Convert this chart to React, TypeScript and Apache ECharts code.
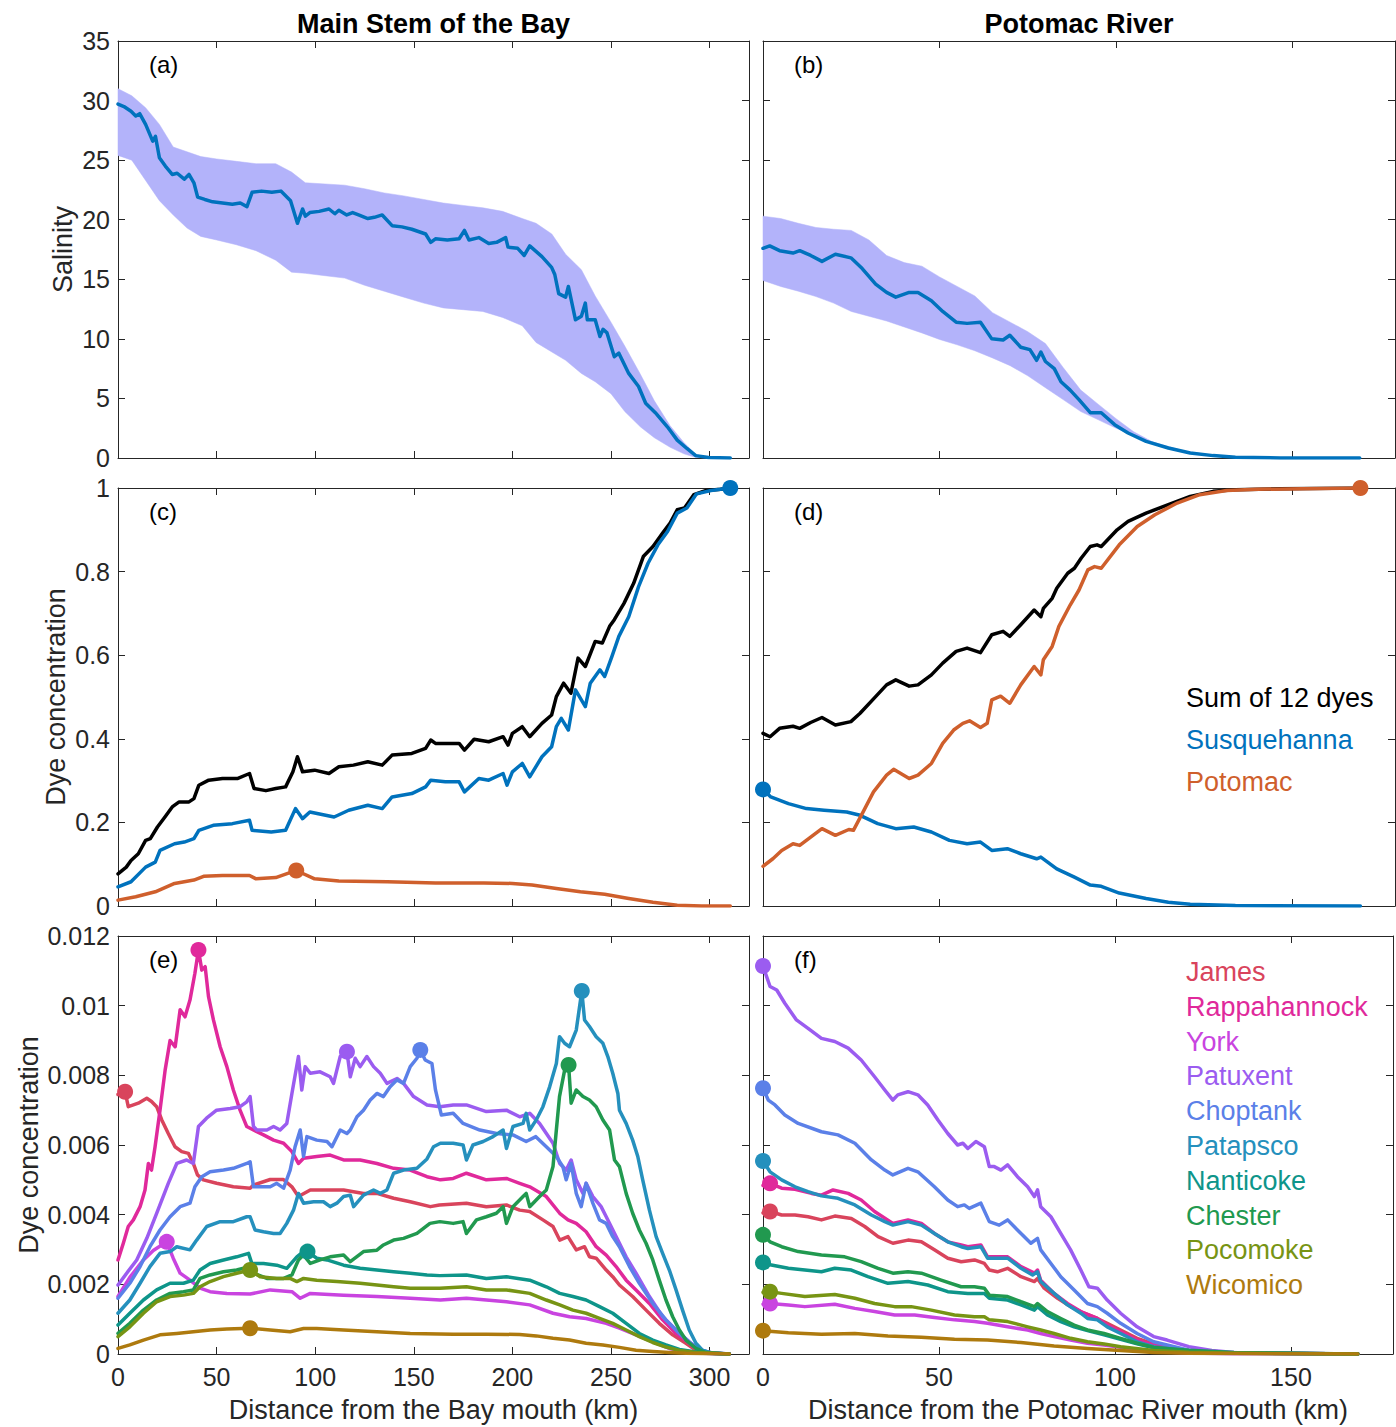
import React, { useEffect, useRef } from 'react';
import * as echarts from 'echarts';

type P = [number, number];

const FONT = '"Liberation Sans", Arial, Helvetica, sans-serif';
const AXIS = '#262626';
const BAND = '#b3b3fa';
const BLUE = '#0072BD';
const ORANGE = '#cf5f2c';
const BLACK = '#000000';

// ---------- Panel (a): salinity, main stem ----------
const bandMainX = [0, 7, 14, 21, 28, 35, 42, 50, 60, 70, 80, 88, 95, 105, 115, 125, 135, 145, 155, 165, 175, 185, 195, 205, 212, 220, 227, 235, 242, 250, 257, 265, 272, 280, 287, 293, 300];
const bandMainUpper = [31.0, 30.4, 29.4, 28.0, 26.1, 25.7, 25.3, 25.1, 24.9, 24.7, 24.7, 24.0, 23.1, 23.0, 22.9, 22.6, 22.25, 22.0, 21.7, 21.4, 21.2, 21.0, 20.7, 20.1, 19.7, 18.8, 17.1, 15.8, 13.6, 11.4, 9.4, 7.0, 4.8, 2.7, 1.3, 0.3, 0];
const bandMainLower = [25.4, 25.0, 23.3, 21.6, 20.4, 19.3, 18.6, 18.3, 17.9, 17.4, 16.6, 15.6, 15.5, 15.3, 15.1, 14.5, 14.0, 13.5, 13.0, 12.6, 12.45, 12.3, 11.8, 11.1, 9.7, 8.9, 8.2, 7.1, 6.4, 5.4, 3.9, 2.6, 1.7, 0.9, 0.35, 0.05, 0];
const salMainMean: P[] = [[0, 29.7], [3, 29.5], [6.6, 29.1], [9, 28.7], [11, 28.9], [14, 28], [17.6, 26.6], [19, 27.0], [21, 25.2], [24, 24.5], [27.5, 23.8], [30, 23.9], [33.6, 23.4], [36, 23.8], [38.5, 23.1], [40.4, 21.9], [44, 21.7], [48, 21.5], [53, 21.4], [58, 21.3], [62, 21.4], [65.4, 21.1], [68, 22.3], [72.8, 22.4], [78, 22.3], [82.6, 22.4], [87.5, 21.6], [91, 19.7], [93.6, 20.9], [95, 20.3], [97.3, 20.6], [102, 20.7], [107, 20.9], [110, 20.5], [112, 20.8], [116, 20.4], [119, 20.6], [122, 20.4], [126.7, 20.1], [130, 20.2], [134, 20.4], [139, 19.5], [144, 19.4], [149, 19.2], [156, 18.8], [158.6, 18.1], [161, 18.4], [167, 18.3], [173, 18.4], [175.7, 19.1], [178, 18.3], [183, 18.5], [188, 18.0], [192, 18.1], [196.6, 18.5], [197.8, 17.7], [202.7, 17.6], [206, 17.0], [208.8, 17.8], [215, 16.9], [219.9, 16.0], [221.5, 15.4], [223.5, 13.8], [227, 13.5], [228.4, 14.4], [232, 11.6], [235, 11.9], [237, 13.0], [238, 11.6], [242, 11.6], [244.4, 10.2], [246, 10.8], [248, 10.5], [251.7, 8.5], [254, 8.8], [259, 7.1], [264, 6.0], [267.6, 4.6], [272.5, 3.8], [278.7, 2.6], [283.6, 1.5], [288.5, 0.8], [293, 0.2], [299.5, 0.05], [310.5, 0]];

// ---------- Panel (b): salinity, Potomac ----------
const bandPotX = [0, 5, 10, 15, 20, 25, 30, 35, 40, 45, 50, 55, 60, 65, 70, 75, 80, 85, 90, 95, 100, 105, 110, 115, 120, 128, 135];
const bandPotUpper = [20.3, 20.1, 19.7, 19.35, 19.2, 19.1, 18.3, 17.0, 16.4, 16.1, 15.2, 14.4, 13.6, 12.2, 11.4, 10.6, 9.6, 7.6, 5.7, 4.5, 3.3, 2.2, 1.4, 0.9, 0.55, 0.18, 0.05];
const bandPotLower = [14.9, 14.4, 14.0, 13.55, 13.0, 12.3, 11.9, 11.5, 11.0, 10.5, 9.95, 9.5, 9.0, 8.4, 7.75, 6.9, 5.9, 4.9, 3.9, 3.2, 2.5, 1.9, 1.35, 0.95, 0.5, 0.18, 0.05];
const salPotMean: P[] = [[0, 17.6], [1.9, 17.8], [4.7, 17.4], [8.5, 17.2], [10.4, 17.4], [13.5, 17.0], [16.7, 16.5], [20.5, 17.1], [24.9, 16.8], [28.1, 15.9], [31.9, 14.6], [35, 13.9], [37.6, 13.5], [41.4, 13.9], [43.9, 13.9], [47.7, 13.2], [50.9, 12.3], [54.7, 11.4], [57.8, 11.3], [61.6, 11.4], [64.8, 10.0], [68, 9.9], [69.9, 10.3], [73, 9.3], [75.6, 9.1], [77.5, 8.2], [78.7, 8.9], [80, 8.1], [82.5, 7.5], [84.4, 6.4], [87, 5.7], [89.5, 4.9], [92.7, 3.8], [95.8, 3.8], [99.6, 2.8], [103.4, 2.1], [108.5, 1.4], [114.8, 0.84], [121, 0.42], [127.5, 0.2], [133.8, 0.06], [146.5, 0], [169, 0]];

// ---------- Panel (c): dyes, main stem ----------
const sumMain: P[] = [[0, 0.077], [4.2, 0.093], [6.6, 0.109], [10.3, 0.125], [14, 0.157], [16.4, 0.161], [20, 0.189], [23.8, 0.213], [27.5, 0.237], [31, 0.249], [36, 0.249], [38.5, 0.257], [41, 0.289], [46, 0.301], [53, 0.305], [60.5, 0.305], [66.7, 0.317], [69, 0.281], [75, 0.276], [80, 0.281], [85, 0.285], [88.7, 0.321], [91, 0.357], [93.6, 0.321], [99.7, 0.325], [107, 0.317], [112, 0.333], [119.4, 0.337], [126.7, 0.345], [134, 0.337], [139, 0.361], [149, 0.365], [156, 0.377], [158.6, 0.397], [161, 0.389], [173, 0.389], [175.7, 0.373], [180.6, 0.399], [188, 0.393], [195.3, 0.405], [197.8, 0.385], [200, 0.413], [205, 0.429], [208.8, 0.405], [215, 0.437], [219.9, 0.457], [222.3, 0.501], [226, 0.533], [229.7, 0.509], [233.3, 0.593], [237, 0.573], [242, 0.633], [245.6, 0.629], [249.3, 0.669], [251.7, 0.685], [256.6, 0.724], [261.5, 0.772], [266.4, 0.836], [271.3, 0.86], [276.2, 0.892], [280, 0.916], [283.6, 0.948], [287.3, 0.952], [292, 0.984], [298.3, 0.994], [305.6, 0.997], [310.5, 1.0]];
const susqMain: P[] = [[0, 0.046], [6.6, 0.058], [14, 0.093], [18.9, 0.105], [21.3, 0.133], [28.7, 0.149], [33.6, 0.153], [38.5, 0.161], [41, 0.181], [48.3, 0.193], [58, 0.197], [66.7, 0.205], [68, 0.181], [77.7, 0.177], [85, 0.181], [90, 0.233], [93.6, 0.209], [97.3, 0.225], [109.6, 0.213], [117, 0.229], [126.7, 0.241], [134, 0.233], [139, 0.261], [149, 0.269], [156, 0.285], [158.6, 0.301], [166, 0.297], [173, 0.297], [175.7, 0.273], [183, 0.305], [188, 0.301], [195.3, 0.317], [197.3, 0.289], [200, 0.321], [205, 0.341], [208.8, 0.309], [215, 0.357], [219.9, 0.381], [222.3, 0.429], [224.8, 0.449], [228.4, 0.421], [232, 0.517], [237, 0.477], [239.5, 0.533], [244.4, 0.565], [246.8, 0.549], [250.5, 0.597], [254, 0.645], [259, 0.692], [264, 0.764], [268.8, 0.82], [273.8, 0.864], [278.7, 0.896], [283.6, 0.94], [288.5, 0.952], [293.4, 0.986], [300.7, 0.994], [310.5, 1.0]];
const potMain: P[] = [[0, 0.014], [9, 0.022], [18.9, 0.034], [28.7, 0.054], [38.5, 0.062], [43.4, 0.071], [53, 0.073], [66.7, 0.073], [70, 0.065], [80, 0.068], [90.4, 0.085], [99.7, 0.065], [112, 0.06], [136.5, 0.058], [161, 0.055], [185.5, 0.055], [200, 0.054], [210, 0.05], [222.3, 0.042], [234.5, 0.034], [246.8, 0.028], [259, 0.018], [271.3, 0.009], [283.6, 0.002], [296, 0], [310.5, 0]];

// ---------- Panel (d): dyes, Potomac ----------
const sumPot: P[] = [[0, 0.413], [2, 0.405], [4.7, 0.425], [8.5, 0.43], [10.4, 0.425], [13.5, 0.439], [16.7, 0.451], [20.5, 0.433], [24.9, 0.441], [27.5, 0.461], [31.9, 0.501], [35, 0.529], [37.6, 0.541], [41.4, 0.526], [43.9, 0.529], [47.7, 0.553], [50.9, 0.581], [54.7, 0.609], [57.8, 0.617], [61.6, 0.606], [64.8, 0.649], [68, 0.657], [69.9, 0.645], [73, 0.673], [76.8, 0.708], [78.7, 0.692], [79.4, 0.712], [81.9, 0.736], [83.2, 0.76], [86.3, 0.796], [88.2, 0.808], [90.1, 0.832], [92.7, 0.86], [94.6, 0.864], [95.8, 0.86], [100.3, 0.9], [103.4, 0.92], [108.5, 0.94], [114.8, 0.96], [121, 0.98], [127.5, 0.992], [133.8, 0.996], [146.5, 0.998], [169.2, 1.0]];
const potPot: P[] = [[0, 0.095], [2.8, 0.113], [5.3, 0.133], [8.5, 0.149], [10.4, 0.145], [13.5, 0.165], [16.7, 0.185], [20.5, 0.169], [24.3, 0.183], [25.6, 0.181], [28.1, 0.221], [31.3, 0.273], [35, 0.313], [37, 0.327], [41.4, 0.305], [43.9, 0.313], [47.7, 0.341], [50.9, 0.389], [54, 0.421], [56.6, 0.437], [58.5, 0.443], [61.6, 0.427], [63.5, 0.437], [64.8, 0.493], [67.3, 0.502], [69.9, 0.485], [73, 0.529], [76.8, 0.573], [78.7, 0.553], [79.4, 0.589], [81.9, 0.621], [83.8, 0.669], [87, 0.72], [89.5, 0.756], [92, 0.804], [93.9, 0.812], [95.8, 0.808], [100.9, 0.864], [106, 0.908], [111, 0.936], [117.3, 0.964], [123.7, 0.984], [131.3, 0.994], [140, 0.997], [152.8, 0.998], [169.2, 1.0]];
const susqPot: P[] = [[0, 0.279], [2.2, 0.261], [7.2, 0.245], [12.3, 0.233], [17.3, 0.229], [23.7, 0.225], [27.5, 0.217], [32.5, 0.197], [37.6, 0.185], [42.7, 0.189], [47.7, 0.177], [52.8, 0.157], [57.8, 0.149], [61.6, 0.153], [64.8, 0.133], [69.2, 0.137], [73, 0.125], [77.5, 0.113], [78.7, 0.117], [83.2, 0.089], [88.2, 0.069], [92.7, 0.05], [95.8, 0.047], [100.9, 0.031], [108.5, 0.018], [114.8, 0.009], [121, 0.004], [133.8, 0.001], [169.2, 0]];

// ---------- Panels (e), (f): tributary dyes, values read in units of 1e-3 ----------
const DYE_UNIT = 1e-3;
const riverNames = ['James', 'Rappahannock', 'York', 'Patuxent', 'Choptank', 'Patapsco', 'Nanticoke', 'Chester', 'Pocomoke', 'Wicomico'];
const riverColors = ['#d9445c', '#e0299b', '#c944e0', '#9b5cf0', '#5b80e8', '#2590bd', '#0e958a', '#21994f', '#779414', '#ae7a0e'];

const jamesMain: P[] = [[0, 7.45], [3.6, 7.53], [5.2, 7.1], [7.8, 7.15], [10.3, 7.2], [14.6, 7.34], [17, 7.25], [19.6, 7.1], [22.2, 6.72], [25.5, 6.33], [28.9, 5.95], [32.3, 5.81], [35.7, 5.76], [38.2, 5.47], [40.3, 5.14], [43.3, 5.0], [50, 4.9], [58.5, 4.8], [67, 4.76], [68.7, 4.85], [77.2, 5.01], [83.9, 5.01], [88.2, 4.8], [91.5, 4.52], [97.5, 4.71], [106, 4.71], [114.4, 4.71], [124.5, 4.61], [131.3, 4.61], [139.8, 4.47], [148.2, 4.37], [158.4, 4.23], [163, 4.28], [176.7, 4.33], [186.8, 4.23], [197, 4.28], [203.7, 4.13], [208.8, 4.09], [215.5, 3.85], [220.6, 3.66], [224, 3.27], [228.2, 3.37], [232.4, 2.99], [236.6, 3.08], [239.1, 2.79], [242.5, 2.75], [247.6, 2.41], [250.9, 2.22], [254.3, 1.98], [261, 1.65], [267.8, 1.26], [274.5, 0.88], [281.3, 0.55], [288, 0.31], [293, 0.11], [299.8, 0.02], [310, 0]];
const rappMain: P[] = [[0, 2.7], [2.7, 3.18], [5.2, 3.66], [7.8, 3.85], [11.2, 4.23], [13.7, 4.71], [15.4, 5.47], [17, 5.28], [18.8, 5.95], [21.3, 7.0], [23.9, 8.15], [26.4, 9.0], [29, 8.82], [31.5, 9.88], [34, 9.68], [36.5, 10.16], [39, 10.93], [40.8, 11.6], [42.5, 11.02], [44.2, 11.12], [45.9, 10.26], [48.4, 9.59], [51.8, 8.82], [55.2, 8.25], [58.5, 7.58], [61.9, 7.0], [65.3, 6.53], [68.7, 6.43], [73.8, 6.29], [78.9, 6.14], [84, 6.05], [88.2, 5.81], [91.5, 5.47], [94.1, 5.62], [100.8, 5.67], [107.6, 5.71], [114.4, 5.57], [122.8, 5.57], [131.3, 5.47], [139.8, 5.33], [148.2, 5.28], [156.7, 5.09], [163.5, 5.0], [170, 5.04], [176.7, 5.19], [186.8, 5.0], [197, 5.04], [203.7, 4.9], [208.8, 4.8], [217.2, 4.52], [224, 4.04], [228.2, 3.85], [232.4, 3.75], [237.4, 3.51], [242.5, 3.08], [247.6, 2.84], [252.6, 2.51], [257.7, 2.12], [262.7, 1.84], [269.5, 1.45], [276.2, 0.98], [283, 0.59], [289.7, 0.31], [294.8, 0.1], [299.8, 0.02], [310, 0]];
const yorkMain: P[] = [[0, 1.65], [6, 2.2], [12.9, 2.7], [17.9, 2.97], [24.7, 3.22], [28, 2.75], [31.5, 2.32], [36.5, 2.12], [41.6, 1.89], [46.7, 1.79], [55.2, 1.74], [67, 1.72], [77.2, 1.84], [88.2, 1.79], [92.4, 1.6], [97.5, 1.74], [114.4, 1.69], [131.3, 1.65], [148.2, 1.6], [163.5, 1.55], [176.7, 1.6], [197, 1.5], [208.8, 1.41], [220.6, 1.17], [229, 1.07], [237.4, 1.02], [247.6, 0.88], [254.3, 0.74], [262.7, 0.55], [271.2, 0.35], [279.6, 0.16], [288, 0.07], [296.5, 0.02], [310, 0]];
const patuxentMain: P[] = [[0, 1.98], [4.4, 2.32], [9.5, 2.7], [14.6, 3.32], [19.6, 4.04], [25.5, 4.9], [29.8, 5.47], [34.8, 5.57], [38.2, 5.47], [40.8, 6.53], [44.9, 6.77], [50, 7.0], [56.9, 7.05], [61.9, 7.1], [65.3, 7.24], [67, 7.39], [68.7, 6.53], [70.4, 6.43], [75.5, 6.43], [78.9, 6.53], [82.2, 6.43], [85.6, 6.62], [88.2, 7.48], [91.5, 8.54], [93.2, 7.58], [94.9, 8.25], [97.5, 8.06], [102.5, 8.1], [107.6, 7.96], [109.3, 7.77], [112.7, 8.54], [116.1, 8.68], [117.8, 7.96], [120.3, 8.49], [122.8, 8.25], [126.2, 8.54], [129.6, 8.25], [133, 8.06], [136.4, 7.77], [141.5, 7.91], [144.8, 7.77], [149.9, 7.39], [156.7, 7.15], [163.2, 7.1], [170, 7.15], [176.7, 7.15], [186.8, 6.96], [197, 7.0], [203.7, 6.81], [208.8, 6.91], [213.8, 6.62], [220.6, 6.05], [224, 5.47], [227.3, 5.28], [229.8, 5.57], [232.4, 5.0], [235.8, 4.61], [237.4, 4.9], [240.8, 4.52], [245, 4.23], [247.6, 3.94], [252.6, 3.37], [254.3, 3.18], [257.7, 2.79], [262.7, 2.32], [269.5, 1.65], [276.2, 1.07], [283, 0.69], [289.7, 0.35], [294.8, 0.13], [299.8, 0.04], [310, 0]];
const choptankMain: P[] = [[0, 1.6], [6, 2.03], [11.2, 2.51], [16.2, 3.08], [21.3, 3.56], [26.4, 3.94], [31.5, 4.23], [36.5, 4.33], [39, 4.8], [42.5, 5.09], [46.7, 5.23], [53.5, 5.28], [58.5, 5.33], [65.3, 5.47], [67, 5.52], [68.7, 4.8], [72.1, 4.8], [77.2, 4.8], [80.5, 4.9], [84, 4.76], [87.3, 5.28], [89.8, 5.95], [92.4, 6.43], [94.1, 5.67], [95.8, 6.24], [100.8, 6.14], [106, 6.1], [108.5, 5.95], [112.7, 6.43], [116.1, 6.33], [117.8, 6.43], [121.2, 6.81], [124.5, 7.0], [127.9, 7.29], [131.3, 7.48], [134.6, 7.39], [138, 7.67], [141.5, 7.87], [144.8, 7.77], [148.2, 8.25], [151.6, 8.49], [153.3, 8.73], [155.8, 8.44], [159.2, 8.34], [161, 7.58], [164, 6.86], [170, 6.91], [175, 6.62], [183.5, 6.43], [192, 6.33], [200.3, 6.29], [207, 6.1], [211.9, 6.24], [217.2, 5.95], [222.3, 5.67], [225.6, 5.38], [227.3, 5.0], [229.8, 5.47], [232.4, 4.61], [234.9, 4.23], [237.4, 4.9], [240.8, 4.33], [244.2, 3.85], [247.6, 3.75], [250.9, 3.37], [254.3, 3.08], [259.4, 2.51], [264.4, 2.03], [271.2, 1.45], [277.9, 0.98], [284.7, 0.59], [291.4, 0.26], [296.5, 0.1], [301.5, 0.02], [310, 0]];
const patapscoMain: P[] = [[0, 1.17], [6, 1.55], [11.2, 2.03], [16.2, 2.51], [21.3, 2.89], [26.4, 2.94], [29.8, 3.08], [36.5, 2.99], [39.9, 3.27], [45, 3.66], [51.8, 3.8], [58.5, 3.8], [65.3, 3.94], [67, 3.94], [69.5, 3.56], [73.8, 3.51], [78.9, 3.46], [82.2, 3.46], [85.6, 3.75], [89, 4.13], [91.5, 4.61], [94.1, 4.33], [99.2, 4.37], [104.2, 4.37], [107.6, 4.23], [111, 4.33], [114.4, 4.52], [117.8, 4.56], [119.5, 4.23], [124.5, 4.56], [129.6, 4.71], [133, 4.61], [136.4, 4.71], [139.8, 5.19], [144.8, 5.28], [151.6, 5.33], [156.7, 5.6], [160, 5.95], [163.5, 6.05], [170, 6.05], [175, 6.0], [176.7, 5.57], [180, 6.0], [185.2, 6.1], [190.2, 6.24], [195.3, 6.43], [197, 5.9], [200.3, 6.53], [205.4, 6.62], [207, 6.91], [208.8, 6.43], [212.1, 6.72], [215.5, 7.1], [218.9, 7.67], [222.3, 8.34], [223.9, 9.11], [226.5, 8.92], [229, 8.82], [232.4, 9.3], [235.2, 10.42], [236.6, 9.59], [239.1, 9.4], [242.5, 9.11], [245.9, 8.92], [248.4, 8.54], [250.9, 8.06], [253.5, 7.48], [254.3, 7.0], [257.7, 6.62], [261, 6.14], [263.6, 5.67], [266.1, 5.0], [269.5, 4.13], [272.9, 3.37], [276.2, 2.89], [279.6, 2.41], [283, 1.84], [286.3, 1.26], [289.7, 0.69], [293.1, 0.31], [296.5, 0.1], [301.5, 0.02], [310, 0]];
const nanticokeMain: P[] = [[0, 0.83], [6, 1.17], [12.9, 1.55], [19.6, 1.84], [26.4, 2.03], [33.2, 2.03], [38.2, 2.12], [41.6, 2.41], [46.7, 2.6], [53.5, 2.7], [60.2, 2.79], [66.2, 2.89], [67.9, 2.6], [73.8, 2.6], [80.5, 2.55], [85.6, 2.46], [90.7, 2.79], [93.2, 2.9], [96.1, 2.94], [100.8, 2.75], [106, 2.7], [114.4, 2.55], [122.8, 2.46], [131.3, 2.41], [139.8, 2.36], [148.2, 2.32], [156.7, 2.27], [163.2, 2.25], [176.7, 2.27], [186.8, 2.17], [197, 2.22], [208.8, 2.12], [217.2, 1.93], [224, 1.74], [230.7, 1.65], [237.4, 1.55], [244.2, 1.36], [250.9, 1.17], [257.7, 0.88], [264.4, 0.59], [271.2, 0.4], [277.9, 0.26], [284.7, 0.13], [291.4, 0.07], [298.1, 0.02], [310, 0]];
const chesterMain: P[] = [[0, 0.59], [6, 0.88], [12.9, 1.26], [19.6, 1.55], [26.4, 1.74], [33.2, 1.79], [38.2, 1.84], [41.6, 2.17], [46.7, 2.27], [53.5, 2.36], [60.2, 2.41], [66.2, 2.5], [68.7, 2.32], [75.5, 2.17], [84, 2.17], [88.2, 2.27], [91.5, 2.7], [94.1, 2.84], [97.5, 2.6], [102.5, 2.7], [107.6, 2.79], [114.4, 2.84], [117.8, 2.65], [124.5, 2.94], [131.3, 2.98], [134.6, 3.13], [139.8, 3.27], [144.8, 3.32], [151.6, 3.46], [158.2, 3.75], [163.2, 3.8], [170, 3.75], [175, 3.8], [176.7, 3.46], [181.8, 3.85], [186.8, 3.94], [191.9, 4.04], [195.3, 4.23], [197, 3.75], [200.3, 4.23], [205.4, 4.52], [207, 4.61], [208.8, 4.23], [213.8, 4.52], [217.2, 4.71], [220.6, 5.38], [222.3, 6.43], [223.9, 7.39], [226.5, 8.15], [228.5, 8.3], [229.8, 7.2], [232.4, 7.58], [235.8, 7.39], [239.1, 7.29], [242.5, 7.1], [245.9, 6.72], [249.3, 6.43], [251.8, 5.57], [254.3, 5.38], [257.7, 4.61], [261, 4.04], [264.4, 3.56], [267.8, 3.18], [271.2, 2.7], [274.5, 2.12], [277.9, 1.55], [281.3, 1.07], [284.7, 0.69], [288, 0.4], [293.1, 0.16], [298.1, 0.04], [310, 0]];
const pocomokeMain: P[] = [[0, 0.5], [6, 0.78], [12.9, 1.17], [19.6, 1.5], [26.4, 1.65], [33.2, 1.69], [38.2, 1.74], [41.6, 1.93], [46.7, 2.08], [53.5, 2.22], [60.2, 2.32], [67, 2.41], [72.1, 2.22], [80.5, 2.17], [87.3, 2.17], [90.7, 2.08], [94.1, 2.17], [100.8, 2.12], [111, 2.08], [122.8, 2.03], [131.3, 1.98], [139.8, 1.93], [148.2, 1.89], [163.2, 1.89], [176.7, 1.93], [186.8, 1.84], [197, 1.84], [208.8, 1.74], [217.2, 1.55], [224, 1.41], [230.7, 1.26], [237.4, 1.17], [244.2, 1.02], [250.9, 0.88], [257.7, 0.69], [264.4, 0.5], [271.2, 0.33], [277.9, 0.2], [284.7, 0.1], [293.1, 0.04], [310, 0]];
const wicomicoMain: P[] = [[0, 0.16], [6, 0.26], [12.9, 0.4], [21.3, 0.55], [29.8, 0.59], [38.2, 0.64], [46.7, 0.69], [55.2, 0.72], [67, 0.74], [77.2, 0.69], [87.3, 0.64], [94.1, 0.73], [100.8, 0.73], [114.4, 0.69], [131.3, 0.64], [148.2, 0.59], [170, 0.57], [186.8, 0.57], [203.7, 0.56], [212.1, 0.52], [220.6, 0.45], [229, 0.4], [237.4, 0.31], [245.9, 0.26], [254.3, 0.19], [262.7, 0.11], [271.2, 0.07], [279.6, 0.04], [288, 0.02], [310, 0]];

const jamesPot: P[] = [[0, 4.05], [2, 4.09], [5.3, 3.99], [9.1, 3.99], [12.8, 3.94], [16.6, 3.85], [20.4, 3.96], [25.1, 3.89], [28.9, 3.66], [32.7, 3.37], [36.9, 3.18], [41.2, 3.27], [45, 3.22], [48.7, 2.99], [52.5, 2.75], [56.3, 2.65], [60.1, 2.7], [62.9, 2.6], [64.3, 2.41], [66.6, 2.36], [69.5, 2.46], [73.3, 2.22], [77.1, 2.08], [78, 2.17], [79.9, 1.89], [83.7, 1.6], [87.4, 1.36], [91.2, 1.17], [95, 1.02], [97.8, 0.88], [101.6, 0.69], [106.3, 0.45], [111, 0.29], [114.8, 0.21], [121, 0.1], [133.8, 0.03], [169, 0]];
const rappPot: P[] = [[0, 4.84], [2, 4.9], [5.3, 4.76], [9.1, 4.73], [13.8, 4.61], [16.6, 4.56], [19.9, 4.71], [24.2, 4.61], [27.9, 4.42], [31.7, 4.09], [36.9, 3.75], [41.2, 3.85], [45, 3.75], [48.7, 3.46], [52.5, 3.22], [56.3, 3.13], [58.2, 3.08], [61.9, 3.13], [63.8, 2.79], [66.6, 2.79], [69.5, 2.79], [73.3, 2.51], [77.1, 2.32], [78, 2.41], [78.9, 2.12], [82.7, 1.74], [86.5, 1.45], [90.3, 1.22], [95, 1.02], [97.8, 0.83], [101.6, 0.64], [106.3, 0.4], [111, 0.26], [114.8, 0.19], [121, 0.1], [133.8, 0.03], [169, 0]];
const yorkPot: P[] = [[0, 1.43], [2, 1.45], [7.2, 1.41], [11.9, 1.36], [20.4, 1.43], [26.1, 1.31], [31.7, 1.22], [37.4, 1.12], [43.1, 1.12], [48.7, 1.05], [54.4, 0.98], [60.1, 0.93], [63.8, 0.88], [69.5, 0.78], [75.2, 0.69], [78.9, 0.59], [82.7, 0.5], [87.4, 0.4], [92.2, 0.31], [96.9, 0.26], [101.6, 0.19], [111, 0.07], [121, 0.03], [133.8, 0.01], [169, 0]];
const patuxentPot: P[] = [[0, 11.14], [2, 10.55], [3.9, 10.45], [6.2, 10.07], [9.5, 9.59], [12.8, 9.35], [16.6, 9.06], [20.4, 8.97], [24.2, 8.78], [27.9, 8.44], [31.7, 7.96], [34.6, 7.58], [36.9, 7.29], [38.3, 7.44], [41.2, 7.53], [44, 7.44], [46.8, 7.15], [49.7, 6.72], [52.5, 6.33], [55.3, 6.0], [56.8, 6.05], [58.2, 5.9], [60.5, 6.1], [62.9, 5.95], [64.3, 5.38], [65.7, 5.38], [67.6, 5.28], [69.5, 5.43], [72.3, 5.09], [75.2, 4.8], [77.1, 4.52], [78, 4.71], [78.9, 4.23], [81.8, 3.94], [84.6, 3.46], [87.4, 2.99], [90.3, 2.41], [92.6, 1.93], [95, 1.89], [97.8, 1.55], [101.6, 1.17], [106.3, 0.78], [111, 0.5], [114.8, 0.4], [121, 0.21], [127.5, 0.1], [133.8, 0.04], [146.5, 0.02], [169, 0]];
const choptankPot: P[] = [[0, 7.63], [1.5, 7.29], [3.4, 7.15], [6.2, 6.86], [10, 6.62], [16.6, 6.38], [21.3, 6.29], [26.1, 6.05], [30.8, 5.57], [34.6, 5.28], [36.9, 5.14], [41.2, 5.33], [44, 5.23], [48.7, 4.8], [52.5, 4.42], [55.3, 4.23], [57.2, 4.28], [58.6, 4.18], [61.9, 4.33], [64.3, 3.8], [67.1, 3.7], [69.5, 3.85], [72.3, 3.56], [76.1, 3.18], [78, 3.32], [78.9, 2.99], [81.8, 2.6], [84.6, 2.22], [88.4, 1.84], [92.2, 1.45], [95, 1.36], [97.8, 1.17], [101.6, 0.88], [106.3, 0.59], [111, 0.35], [114.8, 0.26], [121, 0.11], [127.5, 0.06], [140, 0.02], [169, 0]];
const patapscoPot: P[] = [[0, 5.54], [2, 5.23], [5.3, 5.0], [9.1, 4.8], [12.8, 4.66], [16.6, 4.54], [21.3, 4.47], [26.1, 4.28], [30.8, 3.99], [34.6, 3.8], [36.9, 3.7], [41.2, 3.8], [45, 3.7], [48.7, 3.46], [52.5, 3.22], [56.3, 3.08], [58.2, 3.03], [61.9, 3.08], [63.8, 2.75], [66.6, 2.75], [69.5, 2.75], [73.3, 2.46], [76.6, 2.27], [78, 2.36], [78.9, 2.08], [82.7, 1.74], [86.5, 1.41], [90.3, 1.17], [92.2, 1.02], [95, 0.98], [97.8, 0.78], [101.6, 0.59], [106.3, 0.35], [111, 0.21], [114.8, 0.16], [121, 0.09], [133.8, 0.03], [169, 0]];
const nanticokePot: P[] = [[0, 2.63], [2, 2.56], [7.2, 2.46], [11.9, 2.41], [16.6, 2.36], [20.4, 2.46], [25.1, 2.41], [29.8, 2.22], [35.5, 2.03], [41.2, 2.08], [46.8, 1.98], [52.5, 1.79], [58.2, 1.74], [62.9, 1.74], [64.3, 1.6], [69.5, 1.55], [73.3, 1.41], [77.1, 1.26], [78, 1.36], [80.8, 1.12], [84.6, 0.93], [88.4, 0.78], [92.2, 0.67], [96.9, 0.55], [101.6, 0.42], [106.3, 0.29], [111, 0.18], [121, 0.08], [133.8, 0.03], [169, 0]];
const chesterPot: P[] = [[0, 3.42], [2, 3.22], [5.3, 3.08], [10, 2.94], [16.6, 2.84], [23.2, 2.79], [27.9, 2.65], [32.7, 2.46], [36.9, 2.32], [41.2, 2.36], [45, 2.32], [50.6, 2.12], [56.3, 1.93], [60.1, 1.93], [62.9, 1.89], [64.3, 1.69], [69.5, 1.65], [73.3, 1.5], [77.1, 1.36], [78, 1.45], [80.8, 1.22], [84.6, 1.02], [88.4, 0.83], [92.2, 0.69], [96.9, 0.59], [101.6, 0.45], [106.3, 0.31], [111, 0.19], [121, 0.11], [133.8, 0.04], [169, 0]];
const pocomokePot: P[] = [[0, 1.77], [2, 1.79], [5.3, 1.74], [11.9, 1.65], [20.4, 1.71], [26.1, 1.6], [31.7, 1.45], [37.4, 1.36], [42.1, 1.36], [47.8, 1.26], [54.4, 1.12], [60.1, 1.07], [62.9, 1.07], [64.3, 0.98], [69.5, 0.93], [75.2, 0.78], [78.9, 0.69], [82.7, 0.59], [87.4, 0.45], [92.2, 0.35], [96.9, 0.29], [101.6, 0.21], [111, 0.1], [121, 0.05], [133.8, 0.02], [169, 0]];
const wicomicoPot: P[] = [[0, 0.67], [7.2, 0.61], [16.6, 0.57], [26.1, 0.59], [35.5, 0.52], [45, 0.48], [54.4, 0.42], [63.8, 0.4], [73.3, 0.33], [82.7, 0.23], [92.2, 0.16], [101.6, 0.1], [111, 0.04], [121, 0.02], [169, 0]];

const riversMain: P[][] = [jamesMain, rappMain, yorkMain, patuxentMain, choptankMain, patapscoMain, nanticokeMain, chesterMain, pocomokeMain, wicomicoMain];
const riversPot: P[][] = [jamesPot, rappPot, yorkPot, patuxentPot, choptankPot, patapscoPot, nanticokePot, chesterPot, pocomokePot, wicomicoPot];

// ---------- Axes text ----------
const xAxisNames = ['Distance from the Bay mouth (km)', 'Distance from the Potomac River mouth (km)'];
const yAxisNames = ['Salinity', 'Dye concentration', 'Dye concentration'];
const columnTitles = ['Main Stem of the Bay', 'Potomac River'];
const panelLetters = ['(a)', '(b)', '(c)', '(d)', '(e)', '(f)'];
const dyeLegend = ['Sum of 12 dyes', 'Susquehanna', 'Potomac'];

// ---------- Layout (pixels) ----------
const COLS = [{ left: 118, width: 631 }, { left: 763, width: 632 }];
const ROWS = [{ top: 41, height: 417 }, { top: 488, height: 418 }, { top: 936, height: 418 }];
const X_MAX = [320, 179];
const Y_SCALE = [{ max: 35, interval: 5 }, { max: 1, interval: 0.2 }, { max: 0.012, interval: 0.002 }];
const Y_NAME_GAP = [42, 49, 76];

const peak = (d: P[]): P => d.reduce((a, b) => (b[1] > a[1] ? b : a));
const scaleDye = (d: P[]): P[] => d.map(([x, y]) => [x, y * DYE_UNIT] as P);

function yFormatter(row: number) {
  return (v: number) => {
    if (v === 0) return '0';
    if (row === 0) return String(Math.round(v));
    if (row === 1) return String(+v.toFixed(1));
    return String(+v.toFixed(3));
  };
}

function buildOption() {
  const grid: any[] = [];
  const xAxis: any[] = [];
  const yAxis: any[] = [];
  for (let r = 0; r < 3; r++) {
    for (let c = 0; c < 2; c++) {
      grid.push({ left: COLS[c].left, top: ROWS[r].top, width: COLS[c].width, height: ROWS[r].height, containLabel: false });
    }
  }
  const axisLine = { show: true, onZero: false, lineStyle: { color: AXIS, width: 1 } };
  const axisTick = { show: true, inside: true, length: 7, lineStyle: { color: AXIS, width: 1 } };
  for (let g = 0; g < 6; g++) {
    const r = Math.floor(g / 2);
    const c = g % 2;
    xAxis.push({
      type: 'value', gridIndex: g, position: 'bottom', min: 0, max: X_MAX[c], interval: 50,
      axisLine, axisTick, splitLine: { show: false },
      axisLabel: {
        show: r === 2, fontSize: 25, color: AXIS, fontFamily: FONT, margin: 10,
        formatter: (v: number) => (v % 50 === 0 ? String(v) : ''),
      },
      name: r === 2 ? xAxisNames[c] : '', nameLocation: 'middle', nameGap: 42,
      nameTextStyle: { fontSize: 27, color: AXIS, fontFamily: FONT },
    });
    yAxis.push({
      type: 'value', gridIndex: g, position: 'left', min: 0, max: Y_SCALE[r].max, interval: Y_SCALE[r].interval,
      axisLine, axisTick, splitLine: { show: false },
      axisLabel: { show: c === 0, fontSize: 25, color: AXIS, fontFamily: FONT, margin: 8, formatter: yFormatter(r) },
      name: c === 0 ? yAxisNames[r] : '', nameLocation: 'middle', nameGap: Y_NAME_GAP[r], nameRotate: 90,
      nameTextStyle: { fontSize: 27, color: AXIS, fontFamily: FONT },
    });
  }
  for (let g = 0; g < 6; g++) {
    const r = Math.floor(g / 2);
    const c = g % 2;
    xAxis.push({
      type: 'value', gridIndex: g, position: 'top', min: 0, max: X_MAX[c], interval: 50,
      axisLine, axisTick, splitLine: { show: false }, axisLabel: { show: false },
    });
    yAxis.push({
      type: 'value', gridIndex: g, position: 'right', min: 0, max: Y_SCALE[r].max, interval: Y_SCALE[r].interval,
      axisLine, axisTick, splitLine: { show: false }, axisLabel: { show: false },
    });
  }

  const series: any[] = [];
  const line = (g: number, data: P[], color: string, width = 3.5, z = 3) => ({
    type: 'line', xAxisIndex: g, yAxisIndex: g, data, showSymbol: false, symbol: 'none',
    lineStyle: { color, width, join: 'round', cap: 'round' }, itemStyle: { color }, z, silent: true, animation: false,
  });
  const marker = (g: number, p: P, color: string) => ({
    type: 'scatter', xAxisIndex: g, yAxisIndex: g, data: [p], symbol: 'circle', symbolSize: 16,
    itemStyle: { color, opacity: 1 }, clip: false, z: 6, silent: true, animation: false,
  });
  // shaded range between lower and upper bounds, drawn as one polygon from the data
  const band = (g: number, xs: number[], lo: number[], hi: number[]) => ({
    type: 'custom', xAxisIndex: g, yAxisIndex: g, z: 1, silent: true, animation: false,
    data: xs.map((x, i) => [x, lo[i], hi[i]]),
    encode: { x: 0, y: [1, 2] },
    renderItem: (params: any, api: any) => {
      if (params.dataIndex !== 0) return null;
      const top = xs.map((x, i) => api.coord([x, hi[i]]));
      const bottom = xs.map((x, i) => api.coord([x, lo[i]])).reverse();
      return { type: 'polygon', shape: { points: top.concat(bottom) }, style: { fill: BAND, stroke: BAND, lineWidth: 0.5 } };
    },
  });

  series.push(band(0, bandMainX, bandMainLower, bandMainUpper));
  series.push(line(0, salMainMean, BLUE, 3.5));
  series.push(band(1, bandPotX, bandPotLower, bandPotUpper));
  series.push(line(1, salPotMean, BLUE, 3.5));

  series.push(line(2, sumMain, BLACK));
  series.push(line(2, susqMain, BLUE));
  series.push(line(2, potMain, ORANGE));
  series.push(marker(2, peak(susqMain), BLUE));
  series.push(marker(2, peak(potMain), ORANGE));
  series.push(line(3, sumPot, BLACK));
  series.push(line(3, susqPot, BLUE));
  series.push(line(3, potPot, ORANGE));
  series.push(marker(3, peak(susqPot), BLUE));
  series.push(marker(3, peak(potPot), ORANGE));

  riversMain.forEach((d, i) => series.push(line(4, scaleDye(d), riverColors[i])));
  riversPot.forEach((d, i) => series.push(line(5, scaleDye(d), riverColors[i])));
  riversMain.forEach((d, i) => series.push(marker(4, peak(scaleDye(d)), riverColors[i])));
  riversPot.forEach((d, i) => series.push(marker(5, peak(scaleDye(d)), riverColors[i])));

  const graphic: any[] = [];
  const text = (x: number, y: number, t: string, fill: string, fontSize: number, align = 'left', fontWeight = 'normal') => ({
    type: 'text', x, y, silent: true, z: 10,
    style: {
      text: t, fill, fontSize, fontFamily: FONT, fontWeight,
      align, verticalAlign: 'middle', textAlign: align, textVerticalAlign: 'middle',
    },
  });
  columnTitles.forEach((t, c) => graphic.push(text(COLS[c].left + COLS[c].width / 2, 24, t, '#000', 27, 'center', 'bold')));
  panelLetters.forEach((t, g) => {
    const r = Math.floor(g / 2);
    const c = g % 2;
    graphic.push(text(COLS[c].left + 31, ROWS[r].top + 23, t, '#000', 24));
  });
  const dyeColors = [BLACK, BLUE, ORANGE];
  dyeLegend.forEach((t, i) => graphic.push(text(1186, 698 + i * 42, t, dyeColors[i], 27)));
  riverNames.forEach((t, i) => graphic.push(text(1186, 972 + i * 34.8, t, riverColors[i], 27)));

  return {
    animation: false,
    backgroundColor: '#ffffff',
    textStyle: { fontFamily: FONT },
    grid, xAxis, yAxis, series, graphic,
  };
}

export default function App() {
  const ref = useRef<HTMLDivElement>(null);
  useEffect(() => {
    if (!ref.current) return;
    const chart = echarts.init(ref.current, null, { renderer: 'svg' });
    chart.setOption(buildOption() as any);
    return () => chart.dispose();
  }, []);
  return (
    <div
      ref={ref}
      style={{ position: 'fixed', left: 0, top: 0, width: 1396, height: 1427, background: '#ffffff' }}
    />
  );
}
